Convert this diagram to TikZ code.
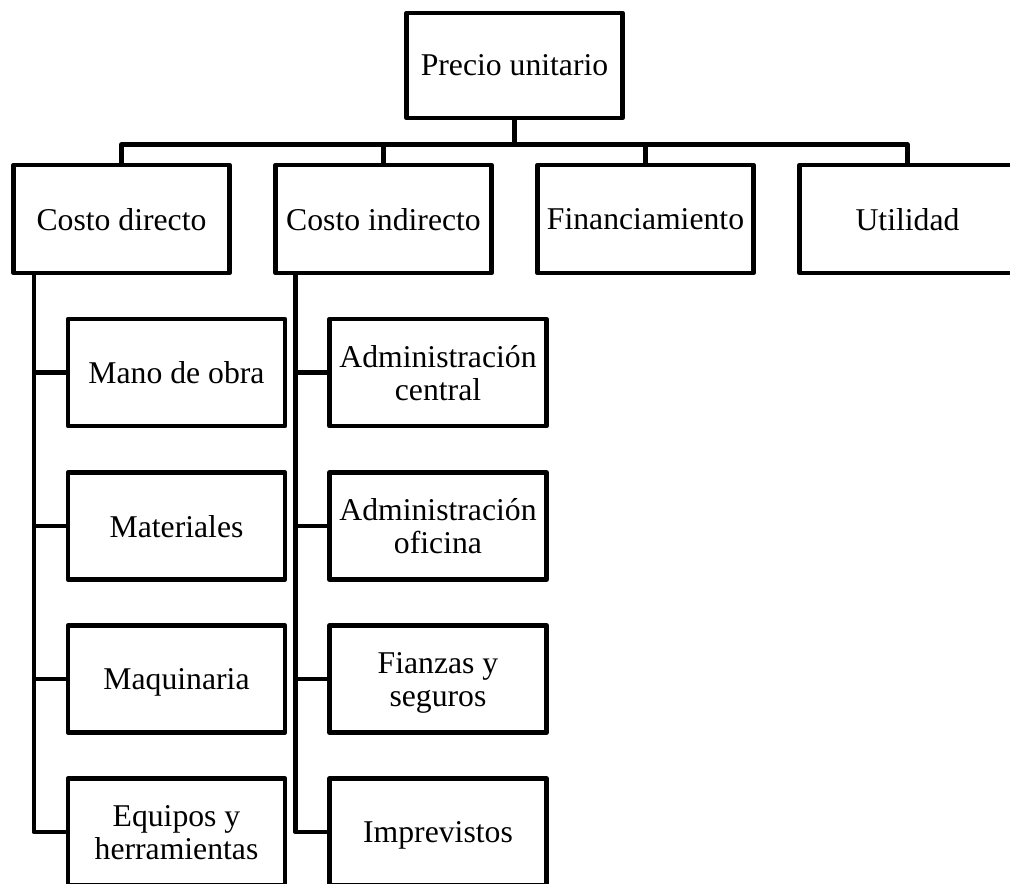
\documentclass[tikz,border=0pt]{standalone}
\usepackage{fontspec}
\setmainfont{Liberation Serif}
\begin{document}
\begin{tikzpicture}[x=1pt,y=-1pt,
  line width=4.5pt, line join=round,
  box/.style={draw, line width=4.5pt, fill=white, align=center, inner sep=0pt,
    text depth=0pt, font={\fontsize{31.7}{33}\selectfont}},
  headbox/.style={box, minimum width=216pt, minimum height=105pt},
  mainbox/.style={box, minimum width=216pt, minimum height=108pt},
  subbox/.style={box, minimum width=217pt, minimum height=107pt},
  link/.style={draw, line width=4.5pt}]
\useasboundingbox (0,0) rectangle (1010,884);
\clip (0,0) rectangle (1010,884);

% root
\node[headbox] (pu) at (514.5,65.5) {Precio unitario};

% second level
\node[mainbox] (cd) at (121.5,219) {Costo directo};
\node[mainbox] (ci) at (383.5,219) {Costo indirecto};
\node[mainbox] (fi) at (645.5,219) {Financiamiento};
\node[mainbox] (ut) at (907.5,219) {Utilidad};

% components of the direct cost
\node[subbox] (mo) at (176.5,372.5) {Mano de obra};
\node[subbox] (ma) at (176.5,526)   {Materiales};
\node[subbox] (mq) at (176.5,679)   {Maquinaria};
\node[subbox] (eq) at (176.5,832)   {Equipos y\\herramientas};

% components of the indirect cost
\node[subbox] (ac) at (438,372.5) {Administración\\central};
\node[subbox] (ao) at (438,526)   {Administración\\oficina};
\node[subbox] (fs) at (438,679)   {Fianzas y\\seguros};
\node[subbox] (im) at (438,832)   {Imprevistos};

% root to second level
\foreach \n in {cd,ci,fi,ut}
  \draw[link] (pu.south) -- ++(0,24) -| (\n.north);

% direct cost branch
\foreach \n in {mo,ma,mq,eq}
  \draw[link] ([xshift=22.5pt]cd.south west) |- (\n.west);

% indirect cost branch
\foreach \n in {ac,ao,fs,im}
  \draw[link] ([xshift=22pt]ci.south west) |- (\n.west);
\end{tikzpicture}
\end{document}
